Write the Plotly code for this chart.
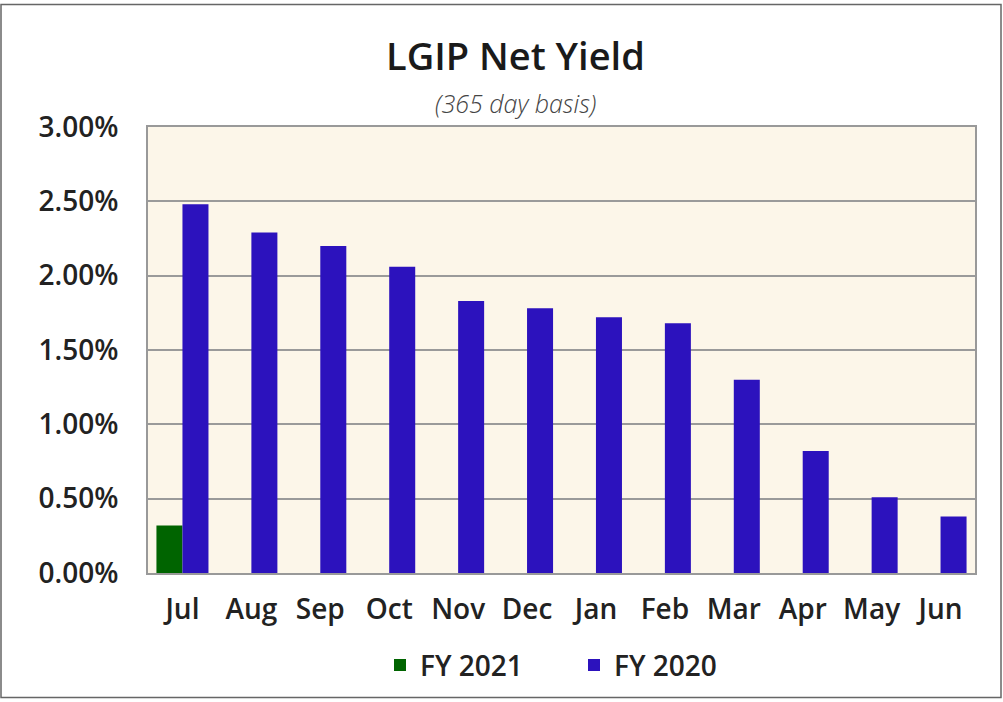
import plotly.graph_objects as go

months = ["Jul", "Aug", "Sep", "Oct", "Nov", "Dec", "Jan", "Feb", "Mar", "Apr", "May", "Jun"]
fy2021 = [0.0032, None, None, None, None, None, None, None, None, None, None, None]
fy2020 = [0.0248, 0.0229, 0.0220, 0.0206, 0.0183, 0.0178, 0.0172, 0.0168, 0.0130, 0.0082, 0.0051, 0.0038]
y_ticks = [0, 0.005, 0.01, 0.015, 0.02, 0.025, 0.03]

FONT = "Open Sans"

fig = go.Figure()
fig.add_trace(go.Bar(x=months, y=fy2021, name="FY 2021", marker=dict(color="#006400", line=dict(width=0))))
fig.add_trace(go.Bar(x=months, y=fy2020, name="FY 2020", marker=dict(color="#2C12BD", line=dict(width=0))))

fig.update_layout(
    width=1003, height=702,
    margin=dict(l=148, r=28, t=127, b=127),
    paper_bgcolor="white",
    plot_bgcolor="#FCF6E9",
    barmode="group",
    bargap=0.245,
    bargroupgap=0,
    font=dict(family=FONT, color="#222222"),
    showlegend=True,
    legend=dict(
        orientation="h", x=(380 - 148) / 827, xanchor="left", y=-0.207, yanchor="middle",
        font=dict(size=28, family=FONT, weight=600, color="#222222"),
        entrywidth=149, entrywidthmode="pixels",
        bgcolor="rgba(0,0,0,0)",
    ),
    xaxis=dict(
        type="category", showgrid=False, showline=True, linecolor="#999999", linewidth=2,
        mirror=True, ticks="", tickfont=dict(size=28, family=FONT, weight=600, color="#222222"),
        ticklabelstandoff=10,
    ),
    yaxis=dict(
        range=[0, 0.03], tickvals=y_ticks, tickformat=".2%", showgrid=True, gridcolor="#9a9a9a",
        gridwidth=2, showline=True, linecolor="#999999", linewidth=2, mirror=True, zeroline=False,
        ticks="", tickfont=dict(size=28, family=FONT, weight=600, color="#222222"),
        ticklabelstandoff=22,
    ),
)

fig.add_annotation(text="LGIP Net Yield", xref="paper", yref="paper", x=(515 - 148) / 827, y=(575 - 55) / 448,
                   showarrow=False, xanchor="center", yanchor="middle",
                   font=dict(size=38, family=FONT, weight=600, color="#1a1a1a"))
fig.add_annotation(text="<i>(365 day basis)</i>", xref="paper", yref="paper", x=(515 - 148) / 827, y=(575 - 103) / 448,
                   showarrow=False, xanchor="center", yanchor="middle",
                   font=dict(size=25, family=FONT, weight=300, color="#444444"))

fig.add_shape(type="rect", xref="paper", yref="paper",
              x0=(1 - 148) / 827, x1=(1001 - 148) / 827, y0=(575 - 700) / 448, y1=(575 - 4) / 448,
              line=dict(color="#666666", width=1.5), fillcolor="rgba(0,0,0,0)", layer="below")

fig.write_html("out.html", config={"displayModeBar": False},
               post_script="document.body.style.margin='0';document.body.style.padding='0';")
